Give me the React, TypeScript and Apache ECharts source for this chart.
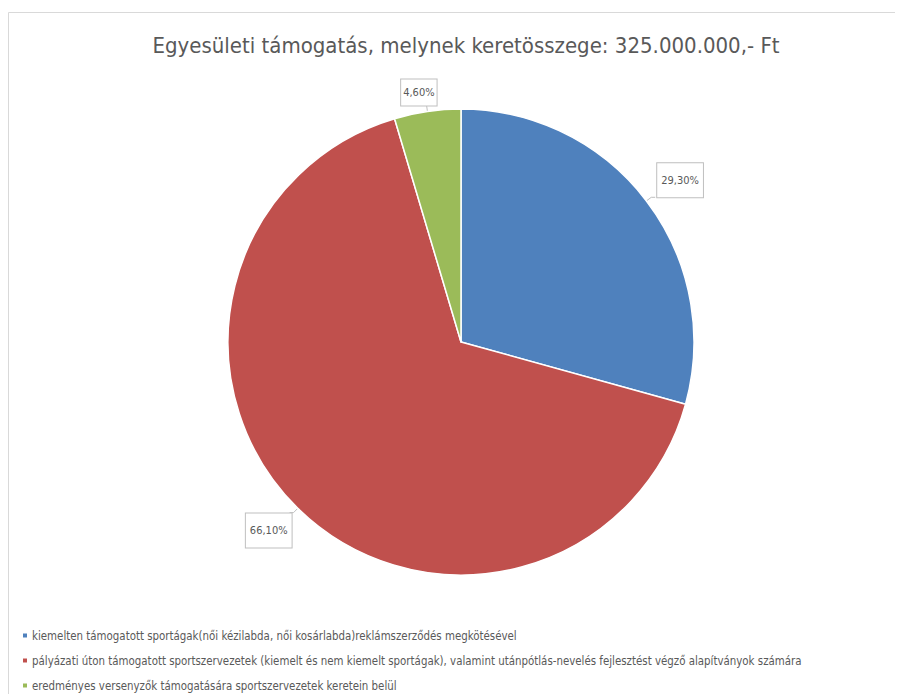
import React, { useEffect, useRef } from "react";
import * as echarts from "echarts";

const titleText = "Egyesületi támogatás, melynek keretösszege: 325.000.000,- Ft";
const categories = [
  "kiemelten támogatott sportágak(női kézilabda, női kosárlabda)reklámszerződés megkötésével",
  "pályázati úton támogatott sportszervezetek (kiemelt és nem kiemelt sportágak), valamint utánpótlás-nevelés fejlesztést végző alapítványok számára",
  "eredményes versenyzők támogatására sportszervezetek keretein belül",
];
const values = [29.3, 66.1, 4.6];
const colors = ["#4F81BD", "#C0504D", "#9BBB59"];
const labelShift = [
  { dx: -3, dy: -17 },
  { dx: 7, dy: 18 },
  { dx: 19, dy: -13 },
];
const labelPads = [
  [12, 4, 11, 4],
  [12, 4, 11, 4],
  [8, 2, 7, 2],
];

const FONT = "'Liberation Sans Narrow', 'DejaVu Sans Condensed', 'Noto Sans', sans-serif";

export default function App() {
  const ref = useRef<HTMLDivElement>(null);
  useEffect(() => {
    if (!ref.current) return;
    const chart = echarts.init(ref.current, null, { renderer: "svg" });
    chart.setOption({
      animation: false,
      backgroundColor: "#ffffff",
      textStyle: { fontFamily: FONT },
      title: {
        text: titleText,
        left: 453,
        textAlign: "center",
        top: 21,
        textStyle: { fontFamily: FONT, fontSize: 22, fontWeight: "normal", color: "#595959" },
      },
      graphic: [
        {
          type: "rect",
          shape: { x: 0.5, y: 4.5, width: 1000, height: 1000 },
          style: { fill: "none", stroke: "#d9d9d9", lineWidth: 1 },
          silent: true,
        },
      ],
      legend: {
        orient: "vertical",
        left: 8,
        top: 617,
        height: 200,
        itemWidth: 6,
        itemHeight: 6,
        itemGap: 14,
        icon: "rect",
        textStyle: { fontFamily: FONT, fontSize: 11.4, color: "#595959", padding: [0, 0, 0, -1] },
        data: categories,
      },
      series: [
        {
          type: "pie",
          center: [453, 334],
          radius: 233,
          startAngle: 90,
          clockwise: true,
          avoidLabelOverlap: false,
          itemStyle: { borderColor: "#ffffff", borderWidth: 1.5 },
          label: {
            show: true,
            position: "outside",
            formatter: (p: any) => p.value.toFixed(2).replace(".", ",") + "%",
            fontFamily: FONT,
            fontSize: 11,
            color: "#595959",
            backgroundColor: "#ffffff",
            borderColor: "#bfbfbf",
            borderWidth: 1,
          },
          labelLine: { show: true, length: 6, length2: 4, lineStyle: { color: "#bfbfbf", width: 1 } },
          labelLayout: (p: any) => labelShift[p.dataIndex],
          data: categories.map((c, i) => ({
            name: c,
            value: values[i],
            itemStyle: { color: colors[i] },
            label: { padding: labelPads[i] },
          })),
        },
      ],
    });
    return () => chart.dispose();
  }, []);
  return <div ref={ref} style={{ width: 895, height: 686 }} />;
}
